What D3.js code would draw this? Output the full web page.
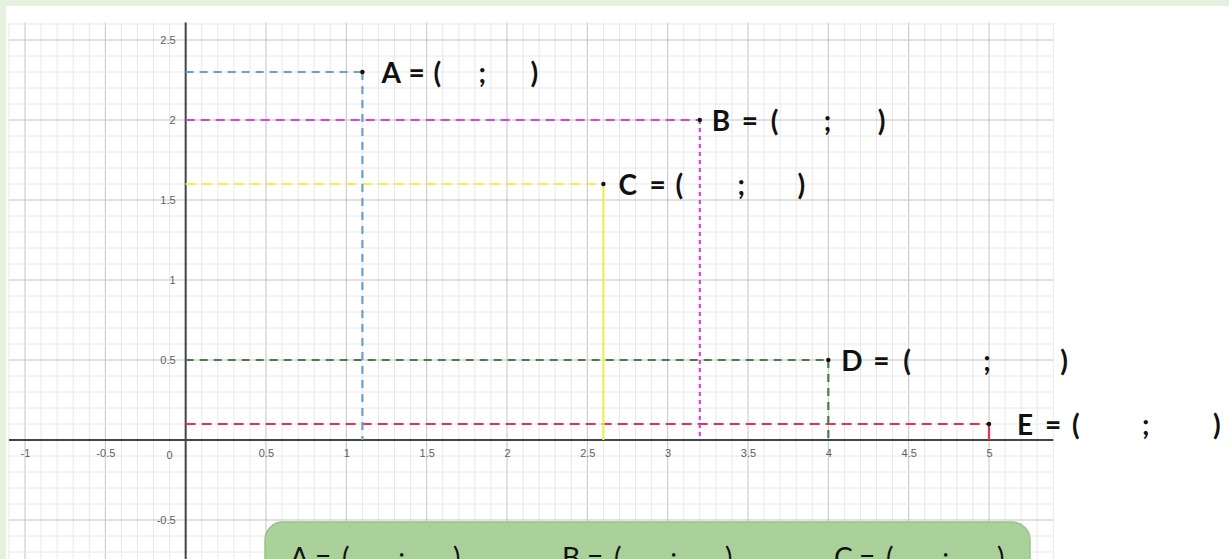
<!DOCTYPE html>
<html>
<head>
<meta charset="utf-8">
<script src="https://cdn.jsdelivr.net/npm/d3@7"></script>
<style>
  html, body { margin: 0; padding: 0; background: #e6f0df; }
  svg { display: block; }
  .tick text { font-family: "Liberation Sans", Arial, sans-serif; font-size: 11px; fill: #5e5e5e; }
  .lbl { font-family: Lato, "Open Sans", sans-serif; font-weight: 700; font-size: 28px; fill: #111; }
  .box-lbl { font-family: Lato, "Open Sans", sans-serif; font-weight: 400; font-size: 28px; fill: #111; }
</style>
</head>
<body>
<div id="chart"></div>
<script>
// points and their labels
var names = ["A", "B", "C", "D", "E"];
var xs = [1.1, 3.2, 2.6, 4, 5];
var ys = [2.3, 2, 1.6, 0.5, 0.1];
var colors = ["#6a9fd0", "#cf48dc", "#eeee50", "#4c7a4c", "#e4334e"];

// tick labels
var xTicks = [-1, -0.5, 0.5, 1, 1.5, 2, 2.5, 3, 3.5, 4, 4.5, 5];
var yTicks = [-0.5, 0.5, 1, 1.5, 2, 2.5];

// summary box
var boxNames = ["A", "B", "C"];

// where "=", "(", ";" and ")" sit after each label start (blank answer slots)
var labelGaps = [[27, 52, 97, 149], [30, 59, 112, 166], [31, 57, 119, 179], [32, 62, 142, 219], [28, 55, 125, 196]];
var labelShift = [19, 12, 15, 13, 28];
var boxGaps = [25, 52, 108, 163];

var W = 1229, H = 559;

var svg = d3.select("#chart").append("svg")
  .attr("width", W)
  .attr("height", H);

// white panel inside the light green frame
svg.append("rect")
  .attr("x", 6).attr("y", 6)
  .attr("width", W - 6).attr("height", H - 6)
  .attr("fill", "#fff");

var x = d3.scaleLinear().domain([-1, 5]).range([25, 989]);
var y = d3.scaleLinear().domain([0, 2.5]).range([440, 40]);

var gx0 = -1.1, gx1 = 5.4, gy0 = -0.75, gy1 = 2.61;

// grid
var minorX = d3.range(-11, 55).map((d) => d / 10);
var minorY = d3.range(-7, 27).map((d) => d / 10);
var grid = svg.append("g");

function gridColor(d) {
  return Math.abs(Math.round(d * 10)) % 5 === 0 ? "#c4c4c4" : "#e8e8e8";
}

grid.selectAll(".vminor")
  .data(minorX)
  .join("line")
  .attr("x1", (d) => x(d)).attr("x2", (d) => x(d))
  .attr("y1", y(gy1)).attr("y2", y(gy0))
  .attr("stroke", gridColor);

grid.selectAll(".hminor")
  .data(minorY)
  .join("line")
  .attr("y1", (d) => y(d)).attr("y2", (d) => y(d))
  .attr("x1", x(gx0)).attr("x2", x(gx1))
  .attr("stroke", gridColor);

// axes
svg.append("line")
  .attr("x1", x(gx0)).attr("x2", x(gx1))
  .attr("y1", y(0)).attr("y2", y(0))
  .attr("stroke", "#444").attr("stroke-width", 2);
svg.append("line")
  .attr("x1", x(0)).attr("x2", x(0))
  .attr("y1", y(gy1)).attr("y2", y(gy0))
  .attr("stroke", "#444").attr("stroke-width", 2);

var xAxis = svg.append("g")
  .attr("transform", "translate(0," + y(0) + ")")
  .call(d3.axisBottom(x).tickValues(xTicks).tickSize(0).tickPadding(9).tickFormat((d) => String(d)));
xAxis.select(".domain").remove();

var yAxis = svg.append("g")
  .attr("transform", "translate(" + x(0) + ",0)")
  .call(d3.axisLeft(y).tickValues(yTicks).tickSize(0).tickPadding(10).tickFormat((d) => String(d)));
yAxis.select(".domain").remove();

svg.append("text")
  .attr("x", x(0) - 16).attr("y", y(0) + 19)
  .attr("text-anchor", "middle")
  .style("font-family", "Liberation Sans, Arial, sans-serif")
  .style("font-size", "11px")
  .style("fill", "#5e5e5e")
  .text("0");

// dashed guide lines
var pts = names.map((n, i) => ({ name: n, x: xs[i], y: ys[i], color: colors[i], i: i }));
var hDash = ["8,6", "9,6", "10,6", "8,6", "10,6"];
var vDash = ["8,6", "4,4", null, "8,6", null];

var guides = svg.append("g");
guides.selectAll(".h")
  .data(pts)
  .join("line")
  .attr("x1", x(0)).attr("x2", (d) => x(d.x))
  .attr("y1", (d) => y(d.y)).attr("y2", (d) => y(d.y))
  .attr("stroke", (d) => d.color)
  .attr("stroke-width", 2.2)
  .attr("stroke-dasharray", (d) => hDash[d.i]);

guides.selectAll(".v")
  .data(pts)
  .join("line")
  .attr("x1", (d) => x(d.x)).attr("x2", (d) => x(d.x))
  .attr("y1", (d) => y(d.y)).attr("y2", y(0))
  .attr("stroke", (d) => d.color)
  .attr("stroke-width", 2.2)
  .attr("stroke-dasharray", (d) => vDash[d.i]);

svg.selectAll(".pt")
  .data(pts)
  .join("circle")
  .attr("cx", (d) => x(d.x))
  .attr("cy", (d) => y(d.y))
  .attr("r", 2.2)
  .attr("fill", "#111");

// "A = (   ;   )" labels with blank slots
function blankLabel(sel, name, x0, gaps) {
  sel.append("tspan").attr("x", x0).text(name);
  sel.append("tspan").attr("x", x0 + gaps[0]).text("=");
  sel.append("tspan").attr("x", x0 + gaps[1]).text("(");
  sel.append("tspan").attr("x", x0 + gaps[2]).text(";");
  sel.append("tspan").attr("x", x0 + gaps[3]).text(")");
}

pts.forEach(function (d) {
  var t = svg.append("text")
    .attr("class", "lbl")
    .attr("y", y(d.y) + 11);
  blankLabel(t, d.name, x(d.x) + labelShift[d.i], labelGaps[d.i]);
});

// summary box at the bottom
svg.append("rect")
  .attr("x", 265).attr("y", 522)
  .attr("width", 765).attr("height", 80)
  .attr("rx", 18)
  .attr("fill", "#abd19b")
  .attr("stroke", "#98c488")
  .attr("stroke-width", 1.5);

boxNames.forEach(function (n, i) {
  var t = svg.append("text")
    .attr("class", "box-lbl")
    .attr("y", 568);
  blankLabel(t, n, 290 + i * 272, boxGaps);
});
</script>
</body>
</html>
